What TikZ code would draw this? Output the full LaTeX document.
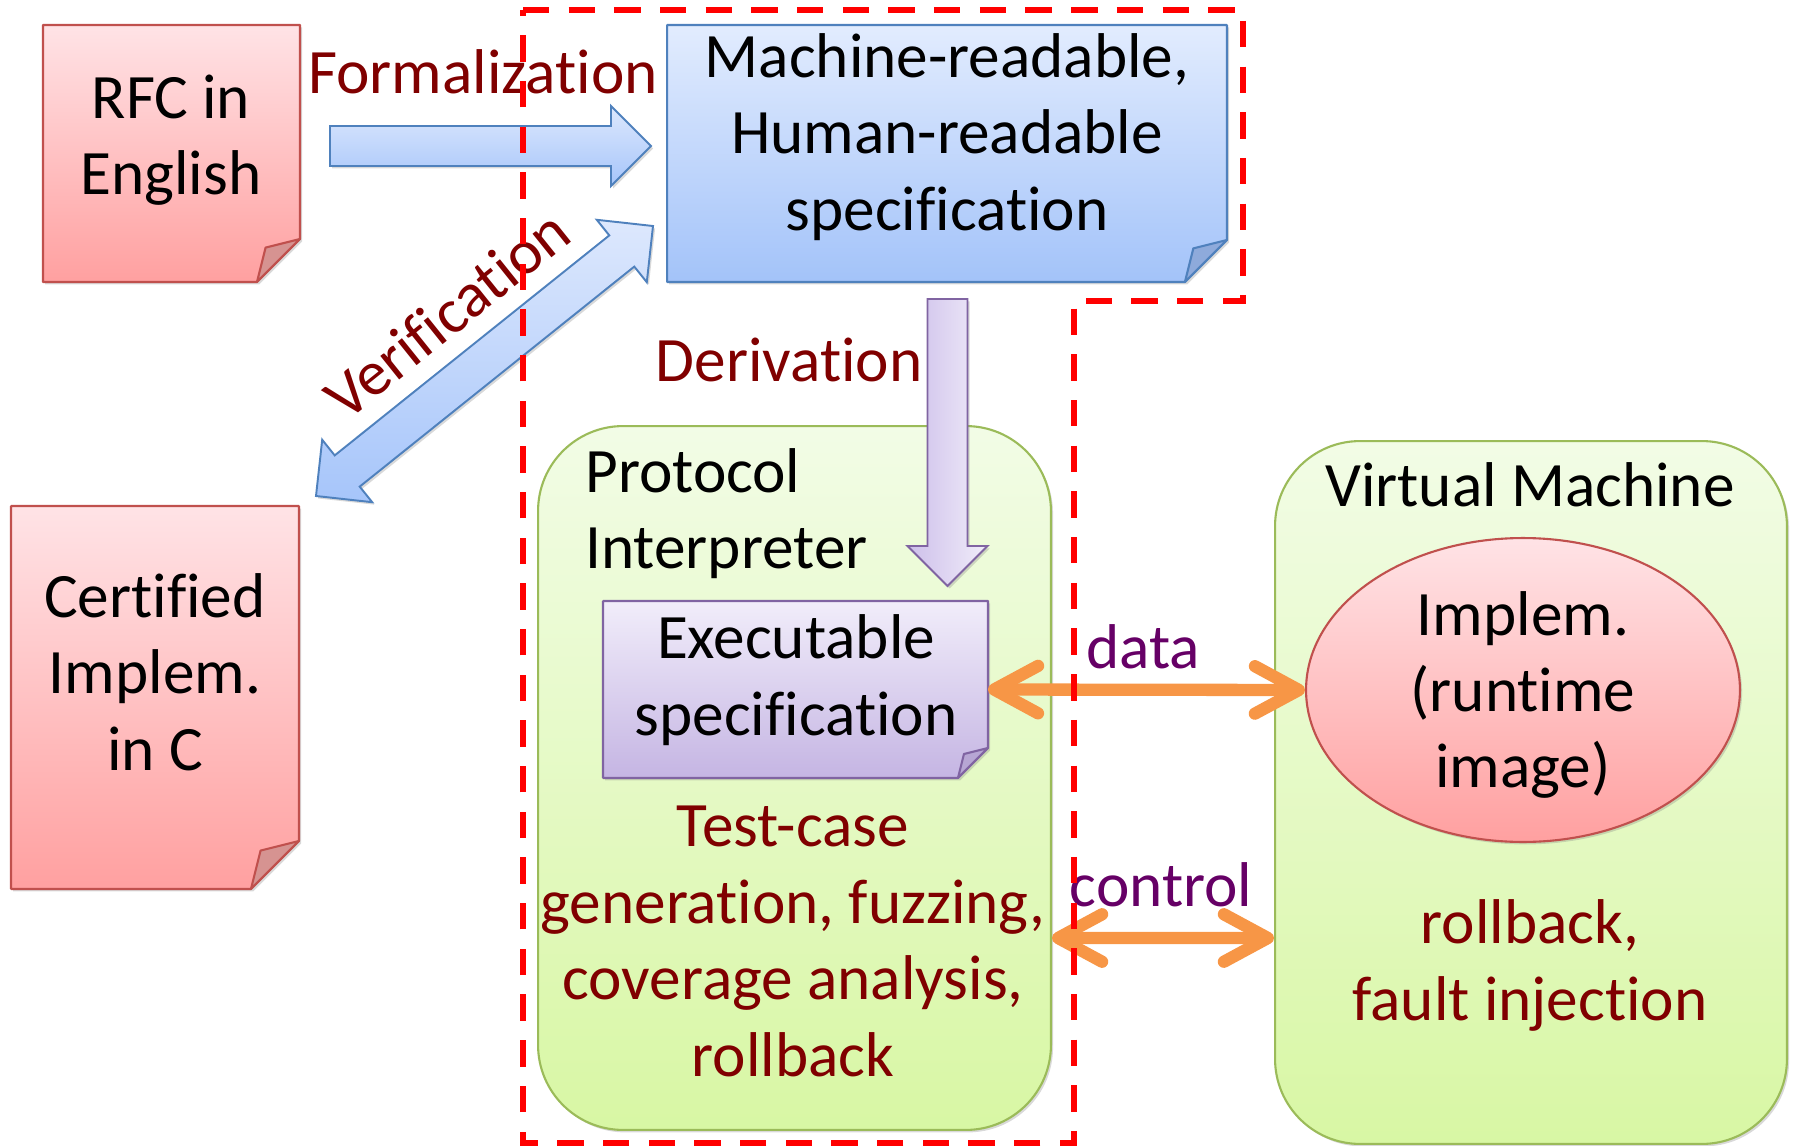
\documentclass[tikz,border=0pt]{standalone}
\usepackage{fontspec}
\setmainfont[Ligatures=NoCommon]{Carlito}
\usetikzlibrary{arrows.meta,calc,shapes.geometric,shadows}

\definecolor{papertop}{HTML}{FFE3E6}
\definecolor{paperbot}{HTML}{FFA0A0}
\definecolor{paperline}{HTML}{C0504D}
\definecolor{paperfold}{HTML}{D69391}
\definecolor{spectop}{HTML}{E2ECFE}
\definecolor{specbot}{HTML}{A3C3F9}
\definecolor{specline}{HTML}{4F81BD}
\definecolor{specfold}{HTML}{8EAADB}
\definecolor{exetop}{HTML}{F1EDFA}
\definecolor{exebot}{HTML}{C5B5E3}
\definecolor{exeline}{HTML}{8064A2}
\definecolor{exefold}{HTML}{B7A6D4}
\definecolor{exeshaft}{HTML}{CDBFEA}
\definecolor{arrowtop}{HTML}{DDE8FD}
\definecolor{arrowbot}{HTML}{A6C5FA}
\definecolor{greentop}{HTML}{F2FCE6}
\definecolor{greenbot}{HTML}{D8F7A4}
\definecolor{greenline}{HTML}{9BBB59}
\definecolor{steptext}{HTML}{800000}
\definecolor{linktext}{HTML}{660066}
\definecolor{signalorange}{HTML}{F79646}

% sheet with a folded lower right corner
\newcommand{\notepaper}[3]{%
  \path[sheetfill, top color=#3top, bottom color=#3bot, draw=#3line]
    (#1.north west) -- (#1.north east) -- ([yshift=#2]#1.south east)
    -- ([xshift=-#2]#1.south east) -- (#1.south west) -- cycle;
  \filldraw[fill=#3fold, draw=#3line, line width=1.2pt, line join=round]
    ([yshift=#2]#1.south east) -- ([xshift=-0.8*#2, yshift=0.8*#2]#1.south east)
    -- ([xshift=-#2]#1.south east) -- cycle;
}

\tikzset{
  blockto/.style={to path={
    ($(\tikztostart)!0.4cm!90:(\tikztotarget)$)
    -- ($(\tikztotarget)!0.8cm!(\tikztostart)!0.4cm!90:(\tikztotarget)$)
    -- ($(\tikztotarget)!0.8cm!(\tikztostart)!0.8cm!90:(\tikztotarget)$)
    -- (\tikztotarget)
    -- ($(\tikztotarget)!0.8cm!(\tikztostart)!0.8cm!-90:(\tikztotarget)$)
    -- ($(\tikztotarget)!0.8cm!(\tikztostart)!0.4cm!-90:(\tikztotarget)$)
    -- ($(\tikztostart)!0.4cm!-90:(\tikztotarget)$)
    -- cycle}},
  twoblockto/.style={to path={
    (\tikztostart)
    -- ($(\tikztostart)!0.8cm!(\tikztotarget)!0.8cm!90:(\tikztotarget)$)
    -- ($(\tikztostart)!0.8cm!(\tikztotarget)!0.4cm!90:(\tikztotarget)$)
    -- ($(\tikztotarget)!0.8cm!(\tikztostart)!0.4cm!90:(\tikztotarget)$)
    -- ($(\tikztotarget)!0.8cm!(\tikztostart)!0.8cm!90:(\tikztotarget)$)
    -- (\tikztotarget)
    -- ($(\tikztotarget)!0.8cm!(\tikztostart)!0.8cm!-90:(\tikztotarget)$)
    -- ($(\tikztotarget)!0.8cm!(\tikztostart)!0.4cm!-90:(\tikztotarget)$)
    -- ($(\tikztostart)!0.8cm!(\tikztotarget)!0.4cm!-90:(\tikztotarget)$)
    -- ($(\tikztostart)!0.8cm!(\tikztotarget)!0.8cm!-90:(\tikztotarget)$)
    -- cycle}}
}

\begin{document}
\begin{tikzpicture}[
    x=0.02cm, y=-0.02cm,
    font=\fontsize{36}{43.5}\selectfont,
    shadowed/.style={drop shadow={shadow xshift=1.2pt, shadow yshift=-1.4pt, opacity=0.3}},
    sheet/.style={rectangle, inner sep=0pt, outer sep=0pt},
    sheetfill/.style={line width=1.2pt, line join=round, shadowed},
    panel/.style={rectangle, draw=greenline, line width=1.2pt, rounded corners=1.7cm, top color=greentop, bottom color=greenbot, shadowed},
    txt/.style={inner sep=0pt, align=center},
    steplabel/.style={txt, text=steptext},
    linklabel/.style={txt, text=linktext},
    bluearrow/.style={draw=specline, line width=1.1pt, top color=arrowtop, bottom color=arrowbot, shadowed},
    violetarrow/.style={draw=exeline, line width=1.1pt, left color=exeshaft, right color=exetop, shadowed},
    signal/.style={draw=signalorange, line width=7pt, <->, >={Straight Barb[length=25pt, width=27pt, round]}},
    trustzone/.style={draw=red, line width=3.2pt, dash pattern=on 15pt off 11pt}
  ]
  \useasboundingbox (0,0) rectangle (1793,1146);

  \node[sheet, minimum width=5.14cm, minimum height=5.14cm] (rfc) at (171.5,153.5) {};
  \node[sheet, minimum width=5.76cm, minimum height=7.66cm] (cert) at (155,697.5) {};
  \node[sheet, minimum width=11.2cm, minimum height=5.14cm] (spec) at (947,153.5) {};
  \notepaper{rfc}{0.86cm}{paper}
  \notepaper{cert}{0.96cm}{paper}
  \notepaper{spec}{0.84cm}{spec}

  \node[panel, minimum width=10.26cm, minimum height=14.08cm] (proto) at (794.5,778) {};
  \node[panel, minimum width=10.24cm, minimum height=14.06cm] (vm) at (1531,792.5) {};
  \node[sheet, minimum width=7.7cm, minimum height=3.54cm] (exe) at (795.5,689.5) {};
  \notepaper{exe}{0.6cm}{exe}
  \node[ellipse, draw=paperline, line width=1.2pt, top color=papertop, bottom color=paperbot,
        minimum width=8.68cm, minimum height=6.08cm, inner sep=0pt, shadowed] (impl) at (1523,690) {};

  \coordinate (formS) at (330,146);
  \coordinate (formT) at (651,146);
  \coordinate (verifS) at (316,496);
  \coordinate (verifT) at (653,226);
  \coordinate (derivS) at (947.5,299);
  \coordinate (derivT) at (947.5,586);
  \path[bluearrow] (formS) to[blockto] (formT);
  \path[bluearrow] (verifS) to[twoblockto] (verifT);
  \path[violetarrow] (derivS) to[blockto] (derivT);

  \draw[signal] (exe.east) -- (impl.west);
  \draw[signal] ($(proto.east)+(0,160)$) -- ($(vm.west)+(0,145.5)$);

  \node[txt] (rfctext) at (171,140) {RFC in\\English};
  \node[txt] (certtext) at (155,672) {Certified\\Implem.\\in C};
  \node[txt] (spectext) at (947,137) {Machine-readable,\\Human-readable\\specification};
  \node[txt, align=left, anchor=west] (prototext) at (585,513.5) {Protocol\\Interpreter};
  \node[txt] (exetext) at (796,680) {Executable\\specification};
  \node[steplabel] (testtext) at (793,941.5) {Test-case\\generation, fuzzing,\\coverage analysis,\\rollback};
  \node[txt] (vmtext) at (1530,484.5) {Virtual Machine};
  \node[txt] (impltext) at (1523,695) {Implem.\\(runtime\\image)};
  \node[steplabel] (vmtasks) at (1530,965.5) {rollback,\\fault injection};
  \node[steplabel] (formtext) at (483,71.5) {Formalization};
  \node[steplabel, rotate=38.7] (veriftext) at (447,314) {Verification};
  \node[steplabel] (derivtext) at (789,360) {Derivation};
  \node[linklabel] (datatext) at (1143,646.5) {data};
  \node[linklabel] (ctrltext) at (1161,884.5) {control};

  \draw[trustzone] (523,10) -- (1243,10) -- (1243,301) -- (1074,301) -- (1074,1143) -- (523,1143) -- cycle;
\end{tikzpicture}
\end{document}
